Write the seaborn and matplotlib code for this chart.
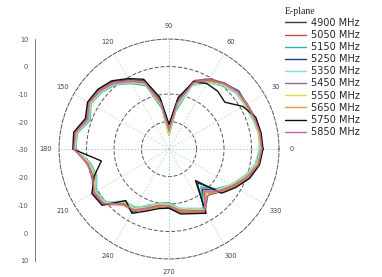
import numpy as np
import pandas as pd
import matplotlib
matplotlib.use("Agg")
import matplotlib.pyplot as plt
import seaborn as sns

# angles in degrees, gain in dB (centre of plot = -30 dB)
angles = list(range(0, 360, 10))

freqs = ["4900 MHz", "5050 MHz", "5150 MHz", "5250 MHz", "5350 MHz",
         "5450 MHz", "5550 MHz", "5650 MHz", "5750 MHz", "5850 MHz"]

g4900 = [3.0, 3.8, 2.6, 2.0, 2.8, 0.5, -1.5, -4.5, -14, -22, -12, -3.5, -1.0, 2.0, 3.2, 3.0, 1.0, 4.0,
         4.2, -0.5, -1.0, 1.0, 0.5, -4.5, -3.5, -7.5, -8.5, -9.5, -7.5, -6.5, -4.5, -11, -6.5, -3.5, -0.5, 2.0]
g5050 = [3.8, 3.2, 3.4, 2.8, 2.2, 1.4, -0.5, -3.5, -12, -23, -14, -4.5, -2.0, 1.0, 2.6, 3.8, 2.0, 4.6,
         3.8, 0.5, -1.5, 2.0, 1.4, -3.5, -4.5, -6.5, -9.5, -8.5, -6.5, -5.5, -3.5, -9, -5.5, -2.5, 0.5, 3.0]
g5150 = [3.2, 3.0, 2.4, 2.2, 2.0, 0.0, -2.0, -5.0, -16, -25, -15, -5.5, -2.5, 0.5, 2.0, 2.8, 0.5, 3.8,
         4.0, -1.0, -2.0, 0.5, 0.0, -5.0, -5.5, -8.0, -10.0, -10.5, -8.0, -7.0, -5.0, -12, -7.5, -4.0, -1.0, 2.2]
g5250 = [3.6, 3.6, 3.0, 2.6, 3.0, 1.2, -1.0, -4.0, -13, -24, -13, -4.0, -1.0, 1.6, 3.2, 3.4, 1.2, 4.4,
         4.4, -0.2, -0.8, 1.2, 0.8, -4.2, -3.8, -7.0, -9.0, -9.0, -7.2, -6.0, -4.2, -14, -6.0, -3.0, 0.2, 2.6]
g5350 = [2.8, 3.2, 2.2, 1.8, 1.6, 0.2, -2.2, -5.5, -15, -23, -14, -5.0, -2.2, 0.8, 2.2, 3.0, 0.8, 4.0,
         4.0, -0.8, -1.8, 0.8, 0.2, -5.5, -5.0, -8.5, -9.8, -10.0, -8.2, -6.8, -5.2, -10, -7.0, -4.2, -0.8, 1.8]
g5450 = [4.0, 3.8, 3.2, 2.8, 2.6, 1.2, -0.8, -3.8, -12, -22, -12, -3.8, -1.2, 1.8, 3.4, 3.8, 1.8, 4.8,
         4.6, 0.2, -0.2, 1.8, 1.2, -3.8, -4.2, -6.8, -8.8, -8.8, -6.8, -5.8, -3.8, -8, -5.8, -2.6, 0.8, 2.8]
g5550 = [3.4, 3.0, 2.8, 2.0, 2.2, 0.6, -1.8, -4.8, -14, -25, -14, -4.8, -1.8, 1.0, 2.6, 3.2, 1.4, 4.2,
         4.4, -0.4, -1.2, 1.2, 0.6, -4.6, -4.8, -7.6, -9.6, -9.8, -7.8, -6.6, -4.6, -9, -6.8, -3.8, -0.4, 2.4]
g5650 = [3.6, 3.4, 3.2, 2.6, 2.4, 1.0, -1.2, -4.2, -13, -23, -13, -4.2, -1.4, 1.4, 3.0, 3.6, 1.6, 4.4,
         4.8, 0.2, -0.6, 1.6, 1.0, -3.6, -4.0, -6.6, -8.6, -9.2, -7.0, -5.6, -3.6, -9.5, -5.6, -2.8, 0.4, 2.8]
g5750 = [4.2, 4.0, 3.6, 1.0, -3.5, -2.5, -2.5, -4.0, -11, -21, -11, -3.0, -0.4, 2.4, 3.8, 4.2, 2.4, 5.2,
         5.0, -5.0, -1.0, 2.4, 1.8, -5.5, -3.0, -6.0, -8.0, -8.5, -6.0, -5.0, -3.0, -15, -5.0, -2.0, 1.2, 3.4]
g5850 = [3.8, 3.6, 3.0, 2.4, 2.6, 1.0, -1.0, -4.4, -13, -23, -13, -4.4, -1.6, 1.2, 2.8, 3.6, 1.6, 4.6,
         4.6, 0.0, -0.4, 1.4, 1.0, -4.0, -4.4, -7.2, -9.2, -9.4, -7.4, -6.2, -4.0, -10, -6.2, -3.2, 0.0, 3.0]

gains = [g4900, g5050, g5150, g5250, g5350, g5450, g5550, g5650, g5750, g5850]
colors = ["#3a3a3a", "#b0584a", "#2fb3a3", "#1c3c8c", "#86e0dc",
          "#8a6a8a", "#d4e04a", "#e39545", "#101010", "#c862a6"]

rows = []
for f, g in zip(freqs, gains):
    # close the loop back to 0 deg
    for a, v in zip(angles + [360], g + [g[0]]):
        rows.append({"theta": np.deg2rad(a), "gain": v, "freq": f})
df = pd.DataFrame(rows)

sns.set_style("white")
fig = plt.figure(figsize=(3.82, 2.77), dpi=100)

ax = fig.add_axes([0.1545, 0.065, 0.576, 0.794], projection="polar")
sns.lineplot(data=df, x="theta", y="gain", hue="freq", hue_order=freqs,
             palette=dict(zip(freqs, colors)), sort=False, estimator=None,
             linewidth=1.0, ax=ax)

ax.set_ylim(-30, 10)
ax.set_yticks([-20, -10, 0, 10])
ax.set_yticklabels([])
ax.set_thetagrids(range(0, 360, 30), [str(a) for a in range(0, 360, 30)],
                  fontsize=4.8, color="#444444")
ax.tick_params(axis="x", pad=-1)
ax.set_xlabel("")
ax.set_ylabel("")
ax.grid(False)
# rings and spokes
for r in [-20, -10, 0]:
    ax.plot(np.linspace(0, 2 * np.pi, 200), [r] * 200, color="#555555",
            lw=0.7, ls=(0, (4, 2)), zorder=0)
for a in range(0, 360, 30):
    c = "#8fd0c0" if a % 90 == 0 else "#b8ddb8"
    ax.plot([np.deg2rad(a)] * 2, [-30, 10], color=c, lw=0.6, ls=(0, (2, 2)), zorder=0)
ax.spines["polar"].set_color("#555555")
ax.spines["polar"].set_linewidth(0.7)
ax.spines["polar"].set_linestyle((0, (4, 2)))

handles, labels = ax.get_legend_handles_labels()
ax.get_legend().remove()
leg = fig.legend(handles, labels, loc="upper left", bbox_to_anchor=(0.735, 0.99),
                 frameon=False, fontsize=7, handlelength=2.2, handletextpad=0.5,
                 labelspacing=0.22, borderaxespad=0, alignment="left")
leg.set_title("E-plane", prop={"family": "Liberation Serif", "size": 7})

# radial scale drawn on the left
sax = fig.add_axes([0.092, 0.058, 0.001, 0.801])
sax.set_ylim(-4, 4)
sax.set_yticks(range(-4, 5))
sax.set_yticklabels(["10", "0", "-10", "-20", "-30", "-20", "-10", "0", "10"],
                    fontsize=4.8, color="#444444")
sax.set_yticks(np.arange(-4, 4.01, 0.25), minor=True)
sax.tick_params(axis="y", which="major", length=2, width=0.5, pad=3, colors="#555555")
sax.tick_params(axis="y", which="minor", length=1, width=0.4, colors="#777777")
sax.set_xticks([])
for s in ["top", "right", "bottom"]:
    sax.spines[s].set_visible(False)
sax.spines["left"].set_color("#666666")
sax.spines["left"].set_linewidth(0.6)
sax.patch.set_alpha(0)

fig.savefig("out.png", dpi=100)
